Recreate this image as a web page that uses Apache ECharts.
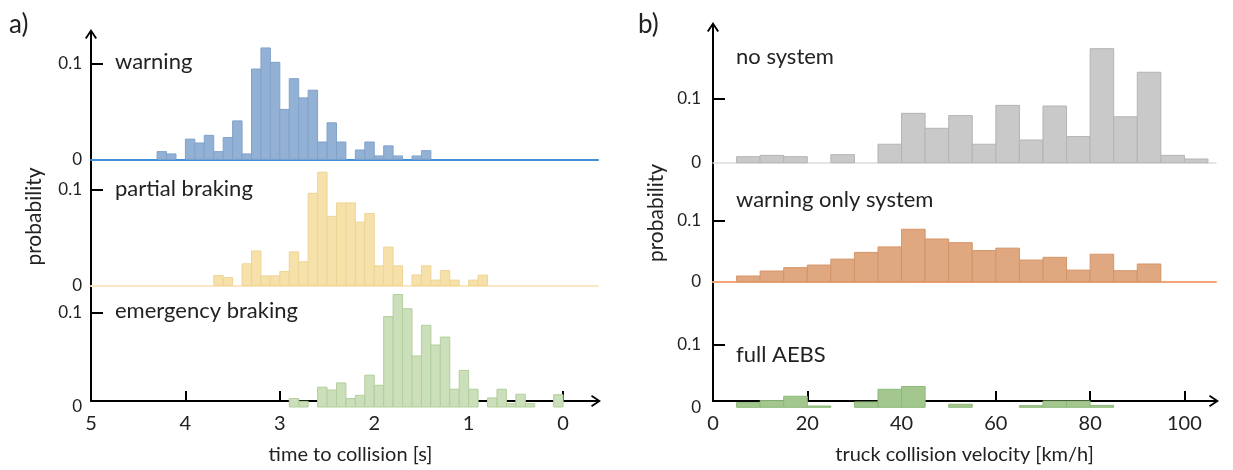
<!DOCTYPE html>
<html>
<head>
<meta charset="utf-8">
<script src="https://cdn.jsdelivr.net/npm/echarts@6/dist/echarts.min.js"></script>
<style>
html,body{margin:0;padding:0;background:#fff;}
#chart{width:1233px;height:470px;}
</style>
</head>
<body>
<div id="chart"></div>
<script>
// ---- DATA ----
// left panel: upper edge of each 0.1 s time-to-collision bin
const ttcBinUpper = [4.3,4.2,4.1,4.0,3.9,3.8,3.7,3.6,3.5,3.4,3.3,3.2,3.1,3.0,2.9,2.8,2.7,2.6,2.5,2.4,2.3,2.2,2.1,2.0,1.9,1.8,1.7,1.6,1.5,1.4,1.3,1.2,1.1,1.0,0.9,0.8,0.7,0.6,0.5,0.4,0.3,0.2,0.1];
const ttcBinWidth = 0.1;
const warningProb = [0.008,0.0056,0,0.021,0.017,0.025,0.008,0.0226,0.040,0.0056,0.094,0.116,0.101,0.052,0.084,0.064,0.072,0.018,0.038,0.018,0,0.0097,0.018,0.0035,0.014,0.0035,0,0.0035,0.009,0,0,0,0,0,0,0,0,0,0,0,0,0,0];
const partialProb = [0,0,0,0,0,0,0.0104,0.0083,0,0.0226,0.036,0.010,0.010,0.0146,0.035,0.0247,0.096,0.118,0.072,0.086,0.086,0.066,0.075,0.0205,0.040,0.0205,0,0.011,0.0205,0.0056,0.0156,0.0056,0,0.0056,0.0108,0,0,0,0,0,0,0,0];
const emergencyProb = [0,0,0,0,0,0,0,0,0,0,0,0,0,0,0.0089,0.006,0,0.021,0.018,0.0255,0.0089,0.0124,0.0337,0.023,0.0957,0.119,0.104,0.054,0.0865,0.0656,0.074,0.0188,0.0387,0.0188,0,0.0096,0.0188,0.0035,0.0135,0.0035,0,0,0.013];
const ttcTicks = [0,1,2,3,4,5];
// right panel: lower edge of each 5 km/h velocity bin
const velBinLower = [5,10,15,20,25,30,35,40,45,50,55,60,65,70,75,80,85,90,95,100];
const velBinWidth = 5;
const noSystemProb = [0.0094,0.0115,0.0094,0,0.0126,0,0.029,0.0775,0.054,0.074,0.029,0.090,0.0356,0.089,0.041,0.179,0.072,0.142,0.0115,0.0058];
const warnOnlyProb = [0.0093,0.0175,0.023,0.0273,0.037,0.048,0.057,0.086,0.070,0.064,0.051,0.055,0.0355,0.040,0.019,0.045,0.018,0.029,0,0];
const fullAEBSProb = [0.0074,0.0106,0.0175,0.002,0,0.0085,0.0286,0.033,0,0.0048,0,0,0.0026,0.010,0.010,0.003,0,0,0,0];
const velTicks = [0,20,40,60,80,100];
const probTicks = [0,0.1];

// ---- CHART ----
const FONT = 'Lato';
const TXT = '#222';
const chart = echarts.init(document.getElementById('chart'));
const CHEV = 'path://M0,9 L6,0 L12,9 L10.4,10 L6,3.2 L1.6,10 Z';

function binsLeft(vals){ return ttcBinUpper.map((e,i)=>[e - ttcBinWidth, e, vals[i]]); }
function binsRight(vals){ return velBinLower.map((e,i)=>[e, e + velBinWidth, vals[i]]); }

function histSeries(xi, yi, data, fill, border){
  return {
    type:'custom', xAxisIndex:xi, yAxisIndex:yi, data:data, clip:false,
    encode:{x:[0,1], y:2},
    itemStyle:{color:fill, borderColor:border, borderWidth:1},
    renderItem:function(params, api){
      const v = api.value(2);
      if (!(v > 0)) return null;
      const a = api.coord([api.value(0), 0]);
      const b = api.coord([api.value(1), v]);
      return {type:'rect',
        shape:{x:Math.min(a[0],b[0]), y:b[1], width:Math.abs(b[0]-a[0]), height:a[1]-b[1]},
        style:api.style()};
    }
  };
}

const L = {left:91, right:1233-598};
const R = {left:713, right:1233-1216};

const grids = [
  {left:L.left, right:L.right, top:32, bottom:470-407},
  {left:R.left, right:R.right, top:25, bottom:470-407},
  {left:L.left, right:L.right, top:159.3-120, height:120},
  {left:L.left, right:L.right, top:285.5-120, height:120},
  {left:L.left, right:L.right, top:407-118.1, height:118.1},
  {left:R.left, right:R.right, top:162.7-127.4, height:127.4},
  {left:R.left, right:R.right, top:281.7-122, height:122},
  {left:R.left, right:R.right, top:407.3-126, height:126}
];

function frameAxisExtras(ax, ticks, labels, name, pad){
  ax.axisLine = {show:true, onZero:false, symbol:['none', CHEV], symbolSize:[12,10], symbolOffset:[0,-2], lineStyle:{color:'#000', width:2}};
  ax.axisTick = {show:true, inside:true, length:10, lineStyle:{color:'#000', width:2}, customValues:ticks};
  ax.axisLabel = {show:true, customValues:labels, formatter:v=>String(v), color:TXT, fontFamily:FONT, fontSize:20, margin:13};
  ax.name = name; ax.nameLocation = 'middle'; ax.nameGap = 44;
  ax.nameTextStyle = {color:TXT, fontFamily:FONT, fontSize:20, padding:pad};
  return ax;
}
function leftX(gi, lineColor, frame){
  const ax = {type:'value', gridIndex:gi, min:-0.37, max:5, inverse:true,
    splitLine:{show:false}, axisLabel:{show:false}, axisTick:{show:false},
    axisLine:{show:!!lineColor, onZero:false, lineStyle:{color:lineColor||'#000', width:2}}};
  if (frame) frameAxisExtras(ax, [0,1,2,3,4], ttcTicks, 'time to collision [s]', [0,0,0,12]);
  return ax;
}
function rightX(gi, lineColor, frame){
  const ax = {type:'value', gridIndex:gi, min:0, max:106.7,
    splitLine:{show:false}, axisLabel:{show:false}, axisTick:{show:false},
    axisLine:{show:!!lineColor, onZero:false, lineStyle:{color:lineColor||'#000', width:lineColor==='#dcdcdc'?1.5:2}}};
  if (frame) frameAxisExtras(ax, [20,40,60,80,100], velTicks, 'truck collision velocity [km/h]', [0,0,0,0]);
  return ax;
}
function frameY(gi){
  return {type:'value', gridIndex:gi, min:0, max:1, splitLine:{show:false},
    axisTick:{show:false}, axisLabel:{show:false},
    axisLine:{show:true, onZero:false, symbol:['none', CHEV], symbolSize:[12,10], symbolOffset:[0,-2], lineStyle:{color:'#000', width:2}},
    name:'probability', nameLocation:'middle', nameGap:46, nameRotate:90,
    nameTextStyle:{color:TXT, fontFamily:FONT, fontSize:21}};
}
function subY(gi, max, margin){
  return {type:'value', gridIndex:gi, min:0, max:max, splitLine:{show:false},
    axisLine:{show:false, onZero:false},
    axisTick:{show:true, inside:true, length:12, customValues:[0.1], lineStyle:{color:'#000', width:2}},
    axisLabel:{show:true, customValues:probTicks, formatter:v=>(v===0?'0':'0.1'), color:TXT, fontFamily:FONT, fontSize:17, margin:margin}};
}

function label(x, y, text){
  return {type:'text', x:x, y:y, style:{text:text, font:'22px '+FONT, fill:TXT, verticalAlign:'middle'}};
}

const option = {
  animation:false,
  backgroundColor:'#fff',
  grid:grids,
  xAxis:[
    leftX(0, null, true),
    rightX(1, null, true),
    leftX(2, '#3f8fde'),
    leftX(3, '#fbe7c2'),
    leftX(4, null),
    rightX(5, '#dcdcdc'),
    rightX(6, '#f3a674'),
    rightX(7, null)
  ],
  yAxis:[
    frameY(0), frameY(1),
    subY(2, 0.125, 9), subY(3, 0.125, 9), subY(4, 0.125, 9),
    subY(5, 0.2, 12), subY(6, 0.2, 12), subY(7, 0.2, 12)
  ],
  series:[
    histSeries(2, 2, binsLeft(warningProb), '#93b1d4', '#80a2ca'),
    histSeries(3, 3, binsLeft(partialProb), '#f7e1ab', '#eed594'),
    histSeries(4, 4, binsLeft(emergencyProb), '#cbdfba', '#b3cf9c'),
    histSeries(5, 5, binsRight(noSystemProb), '#c9c9c9', '#b4b4b4'),
    histSeries(6, 6, binsRight(warnOnlyProb), '#e0a880', '#d59468'),
    histSeries(7, 7, binsRight(fullAEBSProb), '#a3c78f', '#8db978')
  ],
  graphic:[
    {type:'text', x:9, y:25, style:{text:'a)', font:'26px '+FONT, fill:TXT, verticalAlign:'middle'}},
    {type:'text', x:638, y:25, style:{text:'b)', font:'26px '+FONT, fill:TXT, verticalAlign:'middle'}},
    label(115, 62, 'warning'),
    label(115, 189, 'partial braking'),
    label(115, 311, 'emergency braking'),
    label(736, 57, 'no system'),
    label(736, 200, 'warning only system'),
    label(736, 355, 'full AEBS')
  ]
};
chart.setOption(option);
</script>
</body>
</html>
